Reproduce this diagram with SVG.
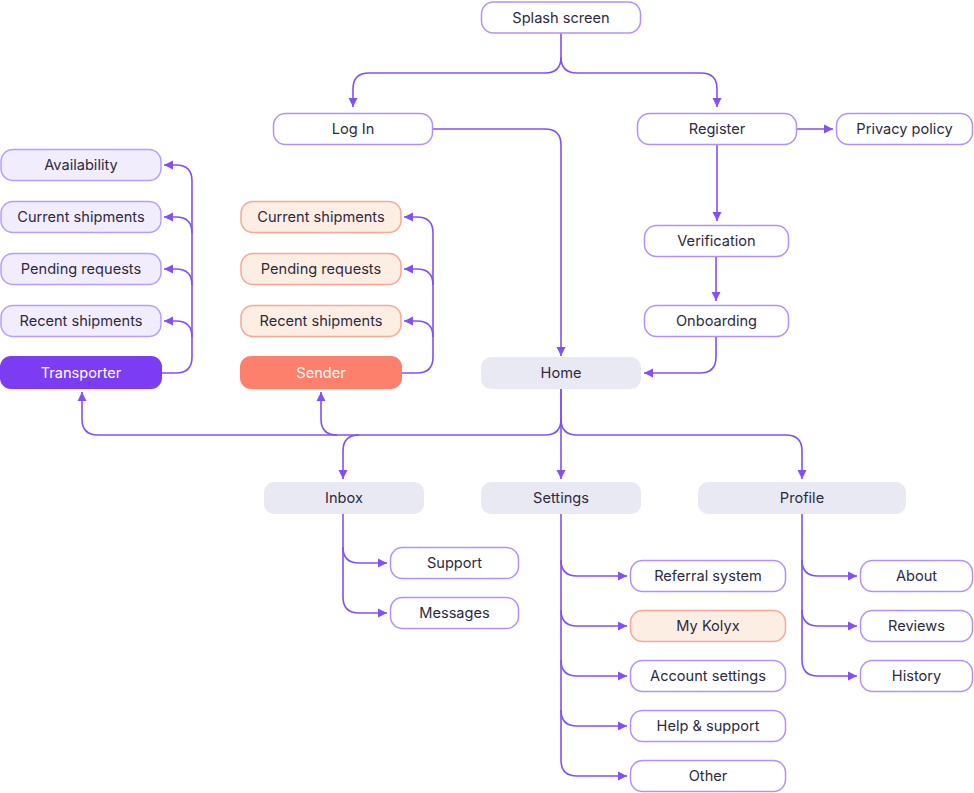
<svg xmlns="http://www.w3.org/2000/svg" width="974" height="793" viewBox="0 0 974 793">
<defs>
<marker id="ah" markerUnits="userSpaceOnUse" markerWidth="10" markerHeight="10" refX="9" refY="5" orient="auto">
<path d="M0,0.5 L9,5 L0,9.5 z" fill="#8250f6"/>
</marker>
<style>
.n rect{fill:#fff;stroke:#b590fb;stroke-width:1.5}
.g rect{fill:#e9e9f4;stroke:none}
.l rect{fill:#f2edfd;stroke:#b99ef7;stroke-width:1.5}
.o rect{fill:#fdeee4;stroke:#f8a894;stroke-width:1.5}
text{font-family:Inter,"Liberation Sans",sans-serif;font-size:14.6px;fill:#2e2a3d;text-anchor:middle;dominant-baseline:central}
.w text{fill:#fff}
#conn path{fill:none;stroke:#8250f6;stroke-width:1.6;marker-end:url(#ah)}
</style>
</defs>
<rect width="974" height="793" fill="#fff"/>
<g id="conn">
<path d="M561,33 V57 Q561,73 545,73 H369 Q353,73 353,89 V107"/>
<path d="M561,57 Q561,73 577,73 H701 Q717,73 717,89 V107"/>
<path d="M433,129 H545 Q561,129 561,145 V356"/>
<path d="M797,129 H833"/>
<path d="M717,145 V221"/>
<path d="M716,257 V301"/>
<path d="M716,337 V357 Q716,373 700,373 H644"/>
<path d="M561,389 V419 Q561,435 545,435 H98 Q82,435 82,419 V392"/>
<path d="M337,435 Q321,435 321,419 V392"/>
<path d="M359,435 Q343,435 343,451 V479"/>
<path d="M561,389 V479"/>
<path d="M561,419 Q561,435 577,435 H786 Q802,435 802,451 V479"/>
<path d="M161,373 H176 Q192,373 192,357 V181 Q192,165 176,165 H164"/>
<path d="M192,233 Q192,217 176,217 H164"/>
<path d="M192,285 Q192,269 176,269 H164"/>
<path d="M192,337 Q192,321 176,321 H164"/>
<path d="M401,373 H417 Q433,373 433,357 V233 Q433,217 417,217 H404"/>
<path d="M433,285 Q433,269 417,269 H404"/>
<path d="M433,337 Q433,321 417,321 H404"/>
<path d="M343,514 V597 Q343,613 359,613 H387"/>
<path d="M343,547 Q343,563 359,563 H387"/>
<path d="M561,514 V760 Q561,776 577,776 H627"/>
<path d="M561,560 Q561,576 577,576 H627"/>
<path d="M561,610 Q561,626 577,626 H627"/>
<path d="M561,660 Q561,676 577,676 H627"/>
<path d="M561,710 Q561,726 577,726 H627"/>
<path d="M802,514 V660 Q802,676 818,676 H857"/>
<path d="M802,560 Q802,576 818,576 H857"/>
<path d="M802,610 Q802,626 818,626 H857"/>
</g>
<g id="splash" class="n"><rect x="481.5" y="2" width="159" height="31" rx="12"/><text x="561" y="17.5">Splash screen</text></g>
<g id="login" class="n"><rect x="273.5" y="113.5" width="159" height="31" rx="12"/><text x="353" y="129">Log In</text></g>
<g id="register" class="n"><rect x="637.5" y="113.5" width="159" height="31" rx="12"/><text x="717" y="129">Register</text></g>
<g id="privacy" class="n"><rect x="836.5" y="113.5" width="136" height="31" rx="12"/><text x="904.5" y="129">Privacy policy</text></g>
<g id="verification" class="n"><rect x="644.5" y="225.5" width="144" height="31" rx="12"/><text x="716.5" y="241">Verification</text></g>
<g id="onboarding" class="n"><rect x="644.5" y="305.5" width="144" height="31" rx="12"/><text x="716.5" y="321">Onboarding</text></g>
<g id="home" class="g"><rect x="481" y="357" width="160" height="32" rx="10"/><text x="561" y="373">Home</text></g>
<g id="transporter" class="w"><rect x="0" y="356" width="162" height="33" rx="11" fill="#7b3cf2"/><text x="81" y="373">Transporter</text></g>
<g id="sender" class="w"><rect x="240" y="356" width="162" height="33" rx="11" fill="#fc806b"/><text x="321" y="373">Sender</text></g>
<g id="t-availability" class="l"><rect x="1" y="149.5" width="160" height="31" rx="12"/><text x="81" y="165">Availability</text></g>
<g id="t-current" class="l"><rect x="1" y="201.5" width="160" height="31" rx="12"/><text x="81" y="217">Current shipments</text></g>
<g id="t-pending" class="l"><rect x="1" y="253.5" width="160" height="31" rx="12"/><text x="81" y="269">Pending requests</text></g>
<g id="t-recent" class="l"><rect x="1" y="305.5" width="160" height="31" rx="12"/><text x="81" y="321">Recent shipments</text></g>
<g id="s-current" class="o"><rect x="241" y="201.5" width="160" height="31" rx="12"/><text x="321" y="217">Current shipments</text></g>
<g id="s-pending" class="o"><rect x="241" y="253.5" width="160" height="31" rx="12"/><text x="321" y="269">Pending requests</text></g>
<g id="s-recent" class="o"><rect x="241" y="305.5" width="160" height="31" rx="12"/><text x="321" y="321">Recent shipments</text></g>
<g id="inbox" class="g"><rect x="264" y="482" width="160" height="32" rx="10"/><text x="344" y="498">Inbox</text></g>
<g id="settings" class="g"><rect x="481" y="482" width="160" height="32" rx="10"/><text x="561" y="498">Settings</text></g>
<g id="profile" class="g"><rect x="698" y="482" width="208" height="32" rx="10"/><text x="802" y="498">Profile</text></g>
<g id="support" class="n"><rect x="390.5" y="547.5" width="128" height="31" rx="12"/><text x="454.5" y="563">Support</text></g>
<g id="messages" class="n"><rect x="390.5" y="597.5" width="128" height="31" rx="12"/><text x="454.5" y="613">Messages</text></g>
<g id="referral" class="n"><rect x="630.5" y="560.5" width="155" height="31" rx="12"/><text x="708" y="576">Referral system</text></g>
<g id="mykolyx" class="o"><rect x="630.5" y="610.5" width="155" height="31" rx="12"/><text x="708" y="626">My Kolyx</text></g>
<g id="account" class="n"><rect x="630.5" y="660.5" width="155" height="31" rx="12"/><text x="708" y="676">Account settings</text></g>
<g id="help" class="n"><rect x="630.5" y="710.5" width="155" height="31" rx="12"/><text x="708" y="726">Help &amp; support</text></g>
<g id="other" class="n"><rect x="630.5" y="760.5" width="155" height="31" rx="12"/><text x="708" y="776">Other</text></g>
<g id="about" class="n"><rect x="860.5" y="560.5" width="112" height="31" rx="12"/><text x="916.5" y="576">About</text></g>
<g id="reviews" class="n"><rect x="860.5" y="610.5" width="112" height="31" rx="12"/><text x="916.5" y="626">Reviews</text></g>
<g id="history" class="n"><rect x="860.5" y="660.5" width="112" height="31" rx="12"/><text x="916.5" y="676">History</text></g>
</svg>
